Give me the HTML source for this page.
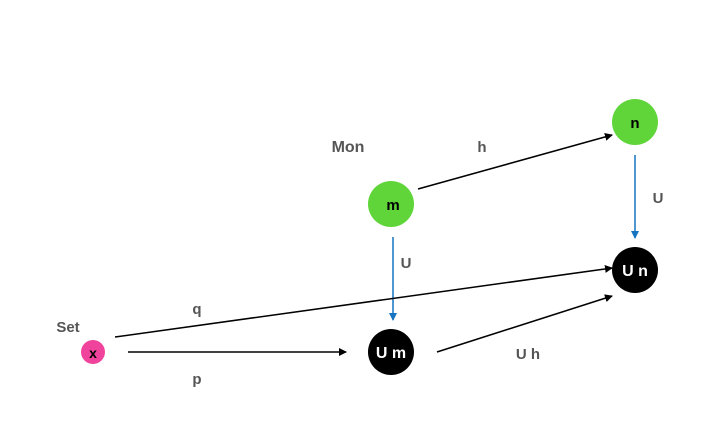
<!DOCTYPE html>
<html><head><meta charset="utf-8"><style>
body{margin:0;background:#fff}
svg{display:block;font-family:"Liberation Sans",sans-serif;font-weight:bold}
</style></head><body>
<svg width="724" height="424" viewBox="0 0 724 424">
<defs>
<marker id="ak" markerWidth="8" markerHeight="8" refX="7" refY="4" orient="auto" markerUnits="userSpaceOnUse"><path d="M0,0 L8,4 L0,8 z" fill="#000"/></marker>
<marker id="ab" markerWidth="8" markerHeight="8" refX="7" refY="4" orient="auto" markerUnits="userSpaceOnUse"><path d="M0,0 L8,4 L0,8 z" fill="#1673c0"/></marker>
</defs>
<text x="348" y="152" font-size="16" fill="#555" text-anchor="middle">Mon</text>
<text x="68" y="332" font-size="15" fill="#555" text-anchor="middle">Set</text>
<g stroke-width="1.5" fill="none">
<line x1="418" y1="189" x2="612" y2="135" stroke="#000" marker-end="url(#ak)"/>
<line x1="635" y1="155" x2="635" y2="238" stroke="#1673c0" marker-end="url(#ab)"/>
<line x1="393" y1="237" x2="393" y2="320" stroke="#1673c0" marker-end="url(#ab)"/>
<line x1="115" y1="337" x2="612" y2="268" stroke="#000" marker-end="url(#ak)"/>
<line x1="128" y1="352" x2="346" y2="352" stroke="#000" marker-end="url(#ak)"/>
<line x1="437" y1="352" x2="612" y2="296" stroke="#000" marker-end="url(#ak)"/>
</g>
<g font-size="15" fill="#555" text-anchor="middle">
<text x="482" y="152">h</text>
<text x="658" y="203">U</text>
<text x="406" y="268">U</text>
<text x="197" y="314">q</text>
<text x="197" y="384">p</text>
<text x="528" y="359">U h</text>
</g>
<g><circle cx="391" cy="204" r="23" fill="#5fd53a"/><text x="393" y="210" font-size="15" text-anchor="middle" fill="#000">m</text></g>
<g><circle cx="635" cy="122" r="23" fill="#5fd53a"/><text x="635" y="128" font-size="15" text-anchor="middle" fill="#000">n</text></g>
<g><circle cx="635" cy="270" r="23" fill="#000"/><text x="635" y="276" font-size="16" text-anchor="middle" fill="#fff">U n</text></g>
<g><circle cx="391" cy="352" r="23" fill="#000"/><text x="391" y="358" font-size="16" text-anchor="middle" fill="#fff">U m</text></g>
<g><circle cx="93" cy="352" r="12" fill="#f0449c"/><text x="93" y="358" font-size="14" text-anchor="middle" fill="#000">x</text></g>
</svg>
</body></html>
